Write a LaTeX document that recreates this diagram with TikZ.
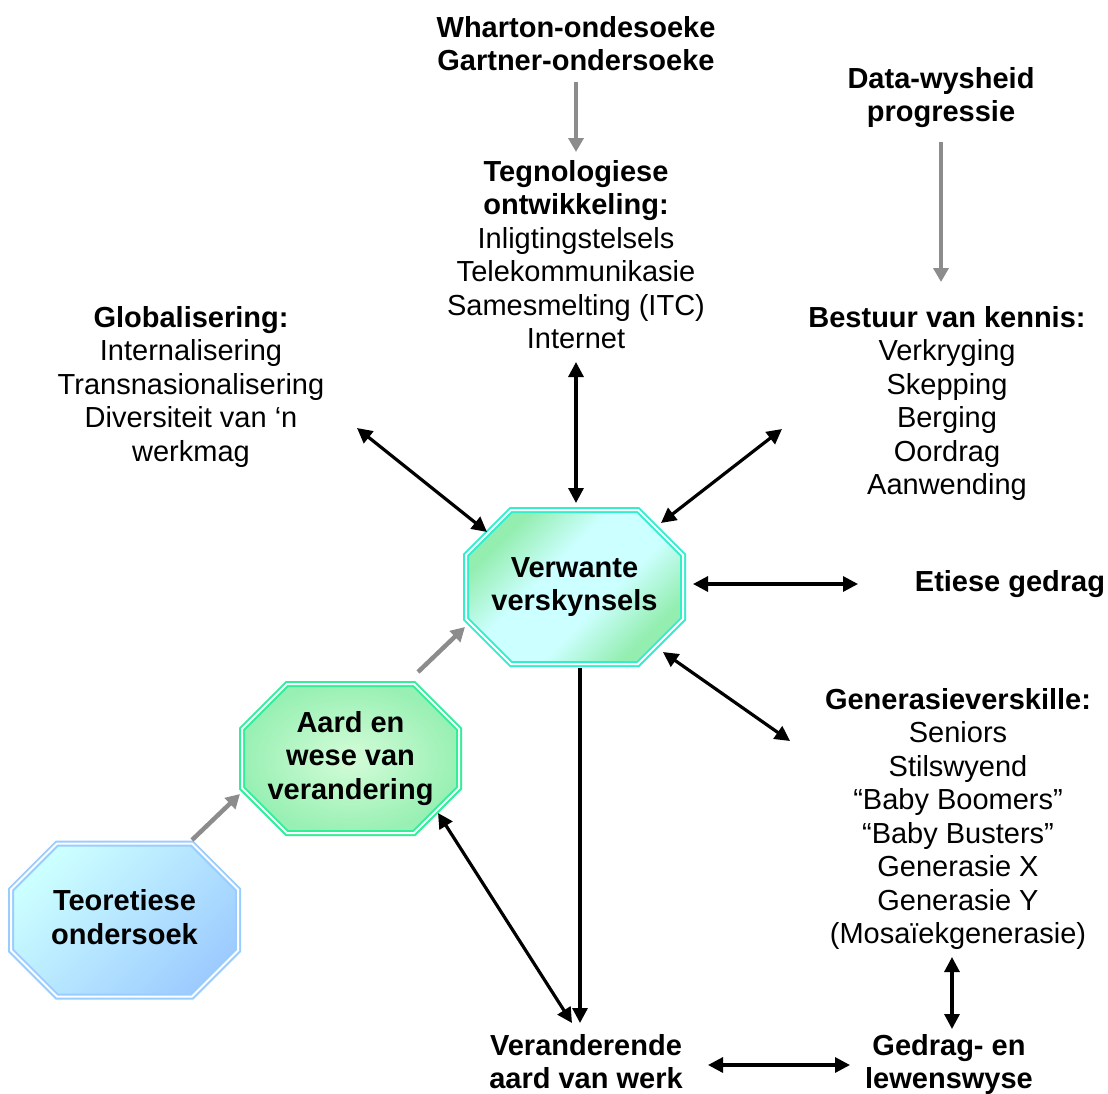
\documentclass[tikz,border=0pt]{standalone}
\usepackage{fontspec}
\setmainfont{Liberation Sans}
\usetikzlibrary{arrows.meta,backgrounds}

\definecolor{tqline}{HTML}{33EECC}
\definecolor{grline}{HTML}{33EE99}
\definecolor{blline}{HTML}{99CCFF}
\definecolor{tqgreen}{HTML}{94EEB0}
\definecolor{tqcyan}{HTML}{CCFFFF}
\definecolor{grpale}{HTML}{D4FCD8}
\definecolor{grdeep}{HTML}{99F0B4}
\definecolor{blcyan}{HTML}{CCFFFF}
\definecolor{bldeep}{HTML}{9ECCFF}
\definecolor{arrowgray}{HTML}{8C8C8C}

% cyan band between two green ends, for the central octagon
\pgfdeclareverticalshading{verwshade}{100bp}{color(0bp)=(tqgreen); color(27bp)=(tqgreen);
  color(42bp)=(tqcyan); color(58bp)=(tqcyan); color(73bp)=(tqgreen); color(100bp)=(tqgreen)}

% octagon outline built from the corners of a named rectangular node
\newcommand\octof[2]{([xshift=#2]#1.north west) -- ([xshift=-#2]#1.north east)
  -- ([yshift=-#2]#1.north east) -- ([yshift=#2]#1.south east)
  -- ([xshift=-#2]#1.south east) -- ([xshift=#2]#1.south west)
  -- ([yshift=#2]#1.south west) -- ([yshift=-#2]#1.north west) -- cycle}

\begin{document}
\begin{tikzpicture}[x=1pt,y=-1pt,
  every node/.style={inner sep=0pt, outer sep=0pt},
  txt/.style={align=center, anchor=north, font=\fontsize{29}{33.5}\selectfont},
  octnode/.style={rectangle, align=center, font=\fontsize{29}{33.5}\selectfont\bfseries},
  octborder/.style={line width=2pt, double=white, double distance=2pt},
  biarrow/.style={draw=black, line width=3.2pt,
    {Triangle[length=15pt,width=15pt]}-{Triangle[length=15pt,width=15pt]}},
  onearrow/.style={draw=black, line width=3.2pt, -{Triangle[length=15pt,width=15pt]}},
  grayarrow/.style={draw=arrowgray, line width=4.5pt, -{Triangle[length=14pt,width=15pt]}}]

\useasboundingbox (0,0) rectangle (1108,1093);

% ---- text blocks ----
\node[txt] (wharton) at (576,16) {\textbf{Wharton-ondesoeke}\\\textbf{Gartner-ondersoeke}};
\node[txt] (tegno) at (576,160) {\textbf{Tegnologiese}\\\textbf{ontwikkeling:}\\Inligtingstelsels\\Telekommunikasie\\Samesmelting (ITC)\\Internet};
\node[txt] (data) at (941,67) {\textbf{Data-wysheid}\\\textbf{progressie}};
\node[txt] (bestuur) at (947,306) {\textbf{Bestuur van kennis:}\\Verkryging\\Skepping\\Berging\\Oordrag\\Aanwending};
\node[txt] (glob) at (191,306) {\textbf{Globalisering:}\\Internalisering\\Transnasionalisering\\Diversiteit van ‘n\\werkmag};
\node[txt] (etiese) at (1010,570) {\textbf{Etiese gedrag}};
\node[txt] (gener) at (958,688) {\textbf{Generasieverskille:}\\Seniors\\Stilswyend\\“Baby Boomers”\\“Baby Busters”\\Generasie X\\Generasie Y\\(Mosaïekgenerasie)};
\node[txt] (gedrag) at (949,1034) {\textbf{Gedrag- en}\\\textbf{lewenswyse}};
\node[txt] (verand) at (586,1034) {\textbf{Veranderende}\\\textbf{aard van werk}};

% ---- octagon boxes ----
\node[octnode, minimum width=217pt, minimum height=154pt] (verw) at (574.5,587) {Verwante\\verskynsels};
\node[octnode, minimum width=217pt, minimum height=149pt] (aard) at (350.5,758.5) {Aard en\\wese van\\verandering};
\node[octnode, minimum width=227pt, minimum height=153pt] (teor) at (124.5,920) {Teoretiese\\ondersoek\vphantom{g}};

\begin{scope}[on background layer]
  \shade[shading=verwshade, shading angle=45] \octof{verw}{45pt};
  \draw[octborder, draw=tqline] \octof{verw}{45pt};
  \shade[inner color=grpale, outer color=grdeep] \octof{aard}{45pt};
  \draw[octborder, draw=grline] \octof{aard}{45pt};
  \shade[top color=blcyan, bottom color=bldeep, shading angle=45] \octof{teor}{46pt};
  \draw[octborder, draw=blline] \octof{teor}{46pt};
\end{scope}

% ---- connector end points ----
\coordinate (wh-s) at (576,82);   \coordinate (te-n) at (576,152);
\coordinate (da-s) at (941,142);  \coordinate (be-n) at (941,282);
\coordinate (to-ne) at (192,840); \coordinate (aa-sw) at (240,794);
\coordinate (aa-ne) at (418,672); \coordinate (ve-sw) at (465,627);
\coordinate (gl-se) at (357,428); \coordinate (ve-nw) at (487,532);
\coordinate (te-s) at (576,362);  \coordinate (ve-n) at (576,503);
\coordinate (be-sw) at (782,429); \coordinate (ve-ne) at (661,523);
\coordinate (ve-e) at (693,584);  \coordinate (et-w) at (858,584);
\coordinate (ve-se) at (663,652); \coordinate (ge-nw) at (790,741);
\coordinate (ve-s) at (580,668);  \coordinate (vr-n) at (580,1023);
\coordinate (aa-se) at (438,813); \coordinate (vr-nw) at (572,1023);
\coordinate (ge-s) at (952,957);  \coordinate (gd-n) at (952,1029);
\coordinate (vr-e) at (708,1065); \coordinate (gd-w) at (850,1065);

% ---- connectors ----
\draw[grayarrow] (wh-s) -- (te-n);
\draw[grayarrow] (da-s) -- (be-n);
\draw[grayarrow] (to-ne) -- (aa-sw);
\draw[grayarrow] (aa-ne) -- (ve-sw);

\draw[biarrow] (gl-se) -- (ve-nw);
\draw[biarrow] (te-s) -- (ve-n);
\draw[biarrow] (be-sw) -- (ve-ne);
\draw[biarrow] (ve-e) -- (et-w);
\draw[biarrow] (ve-se) -- (ge-nw);
\draw[onearrow] (ve-s) -- (vr-n);
\draw[biarrow] (aa-se) -- (vr-nw);
\draw[biarrow] (ge-s) -- (gd-n);
\draw[biarrow] (vr-e) -- (gd-w);
\end{tikzpicture}
\end{document}
